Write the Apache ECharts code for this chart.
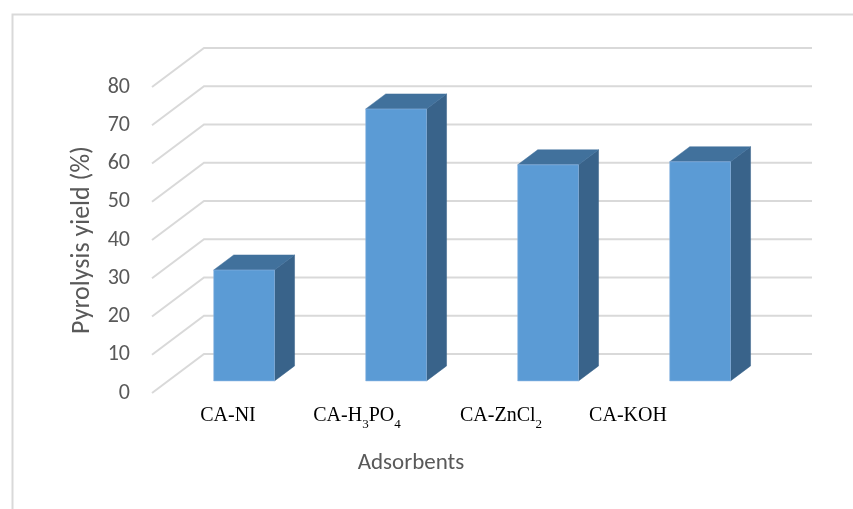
<!DOCTYPE html>
<html>
<head>
<meta charset="utf-8">
<script src="https://cdn.jsdelivr.net/npm/echarts@6/dist/echarts.min.js"></script>
<style>
  html, body { margin: 0; padding: 0; background: #fff; }
  #chart { width: 853px; height: 509px; }
</style>
</head>
<body>
<div id="chart"></div>
<script>
// Pyrolysis yield of the activated-carbon adsorbents
const categories = ['CA-NI', 'CA-H3PO4', 'CA-ZnCl2', 'CA-KOH'];
const yieldValues = [29.0, 71.1, 56.5, 57.3];
const yTicks = [0, 10, 20, 30, 40, 50, 60, 70, 80];

// Pseudo-3D geometry: depth vector of the floor and the bar slot inside it
const DEPTH = { dx: 52, dy: -39 };
const BAR_FRONT = 0.31;   // fraction of depth where a bar's front face sits
const BAR_DEPTH = 0.385;  // fraction of depth a bar occupies
const BAR_WIDTH = 0.4;    // fraction of a category band

// Horizontal nudge (px) of each category caption from its band centre
const LABEL_NUDGE = [0, -23, -31, -56];
const LABEL_GAP = 8;

const GRID_COLOR = '#d9d9d9';
const FRONT_COLOR = '#5b9bd5';
const TOP_COLOR = '#41719c';
const SIDE_COLOR = '#39638a';

const sansFont = 'Carlito, Lato, "Open Sans", sans-serif';
const serifFont = '"Liberation Serif", "Times New Roman", serif';

const chart = echarts.init(document.getElementById('chart'), null, { renderer: 'canvas' });

function shift(p, t) {
  return [p[0] + DEPTH.dx * t, p[1] + DEPTH.dy * t];
}

// Back wall lines and the slanted side-wall lines at each value tick
function renderGridLine(params, api) {
  const v = api.value(0);
  const band = api.size([1, 0])[0];
  const first = api.coord([0, v]);
  const last = api.coord([categories.length - 1, v]);
  const frontLeft = [first[0] - band / 2, first[1]];
  const backLeft = shift(frontLeft, 1);
  const backRight = shift([last[0] + band / 2, last[1]], 1);
  return {
    type: 'polyline',
    shape: { points: [frontLeft, backLeft, backRight] },
    style: { fill: 'none', stroke: GRID_COLOR, lineWidth: 2 }
  };
}

// A bar drawn as front, top and right faces of a box
function renderBar(params, api) {
  const idx = api.value(0);
  const val = api.value(1);
  const band = api.size([1, 0])[0];
  const top = api.coord([idx, val]);
  const base = api.coord([idx, 0]);
  const half = band * BAR_WIDTH / 2;
  const fTL = shift([top[0] - half, top[1]], BAR_FRONT);
  const fTR = shift([top[0] + half, top[1]], BAR_FRONT);
  const fBL = shift([base[0] - half, base[1]], BAR_FRONT);
  const fBR = shift([base[0] + half, base[1]], BAR_FRONT);
  const bTL = shift(fTL, BAR_DEPTH);
  const bTR = shift(fTR, BAR_DEPTH);
  const bBR = shift(fBR, BAR_DEPTH);
  const edge = 'rgba(140,180,225,0.6)';
  return {
    type: 'group',
    children: [
      { type: 'polygon', shape: { points: [fTR, bTR, bBR, fBR] },
        style: { fill: SIDE_COLOR, stroke: SIDE_COLOR, lineWidth: 0.5 } },
      { type: 'polygon', shape: { points: [fTL, bTL, bTR, fTR] },
        style: { fill: TOP_COLOR, stroke: TOP_COLOR, lineWidth: 0.5 } },
      { type: 'polygon', shape: { points: [fTL, fTR, fBR, fBL] },
        style: { fill: FRONT_COLOR, stroke: edge, lineWidth: 1 } }
    ]
  };
}

// Chemical formulas: digits become subscripts, letters stay on the baseline
function formulaLabel(name) {
  return name.split(/(\d+)/).filter(function (s) { return s.length; }).map(function (part) {
    return /^\d+$/.test(part) ? '{s|' + part + '}' : '{m|' + part + '}';
  }).join('');
}

const formulaRich = {
  m: { fontFamily: serifFont, fontSize: 20, fill: '#000000', color: '#000000', lineHeight: 30 },
  s: { fontFamily: serifFont, fontSize: 13, fill: '#000000', color: '#000000', lineHeight: 13, verticalAlign: 'bottom' }
};

const staticGraphics = [
  { id: 'frame', type: 'rect', left: 10, top: 12, shape: { width: 1000, height: 1000 },
    style: { fill: 'none', stroke: '#d9d9d9', lineWidth: 2 }, silent: true, z: -10 },
  { id: 'xname', type: 'text', x: 411, y: 463,
    style: { text: 'Adsorbents', fill: '#595959', font: '23px ' + sansFont,
             textAlign: 'center', textVerticalAlign: 'middle' } }
];

const option = {
  backgroundColor: '#ffffff',
  animation: false,
  grid: { left: 152, right: 93, top: 87, bottom: 116 },
  xAxis: {
    type: 'category',
    data: categories,
    axisLine: { show: false },
    axisTick: { show: false },
    splitLine: { show: false },
    axisLabel: { show: false }
  },
  yAxis: {
    type: 'value',
    min: 0,
    max: 80,
    interval: 10,
    axisLine: { show: false },
    axisTick: { show: false },
    splitLine: { show: false },
    axisLabel: {
      margin: 22,
      padding: [4, 0, 0, 0],
      color: '#595959',
      fontFamily: sansFont,
      fontSize: 22,
      formatter: function (v) { return yTicks.indexOf(v) >= 0 ? String(v) : ''; }
    },
    name: 'Pyrolysis yield (%)',
    nameLocation: 'middle',
    nameGap: 57,
    nameTextStyle: { color: '#595959', fontFamily: sansFont, fontSize: 26 }
  },
  graphic: staticGraphics,
  series: [
    {
      type: 'custom',
      renderItem: renderGridLine,
      data: yTicks.map(function (v) { return [v]; }),
      encode: { y: 0 },
      silent: true,
      z: 1
    },
    {
      type: 'custom',
      renderItem: renderBar,
      data: yieldValues.map(function (v, i) { return [i, v]; }),
      encode: { x: 0, y: 1 },
      z: 2
    }
  ]
};

chart.setOption(option);

// Category captions with subscripted formulas, placed under their bands
const baseY = chart.convertToPixel({ yAxisIndex: 0 }, 0);
const captions = categories.map(function (name, i) {
  const cx = chart.convertToPixel({ xAxisIndex: 0 }, name);
  return {
    id: 'cat' + i, type: 'text', x: cx + LABEL_NUDGE[i], y: baseY + LABEL_GAP,
    style: { text: formulaLabel(name), rich: formulaRich, fill: '#000000',
             font: '20px ' + serifFont, textAlign: 'center', textVerticalAlign: 'top' }
  };
});
chart.setOption({ graphic: staticGraphics.concat(captions) });
</script>
</body>
</html>
